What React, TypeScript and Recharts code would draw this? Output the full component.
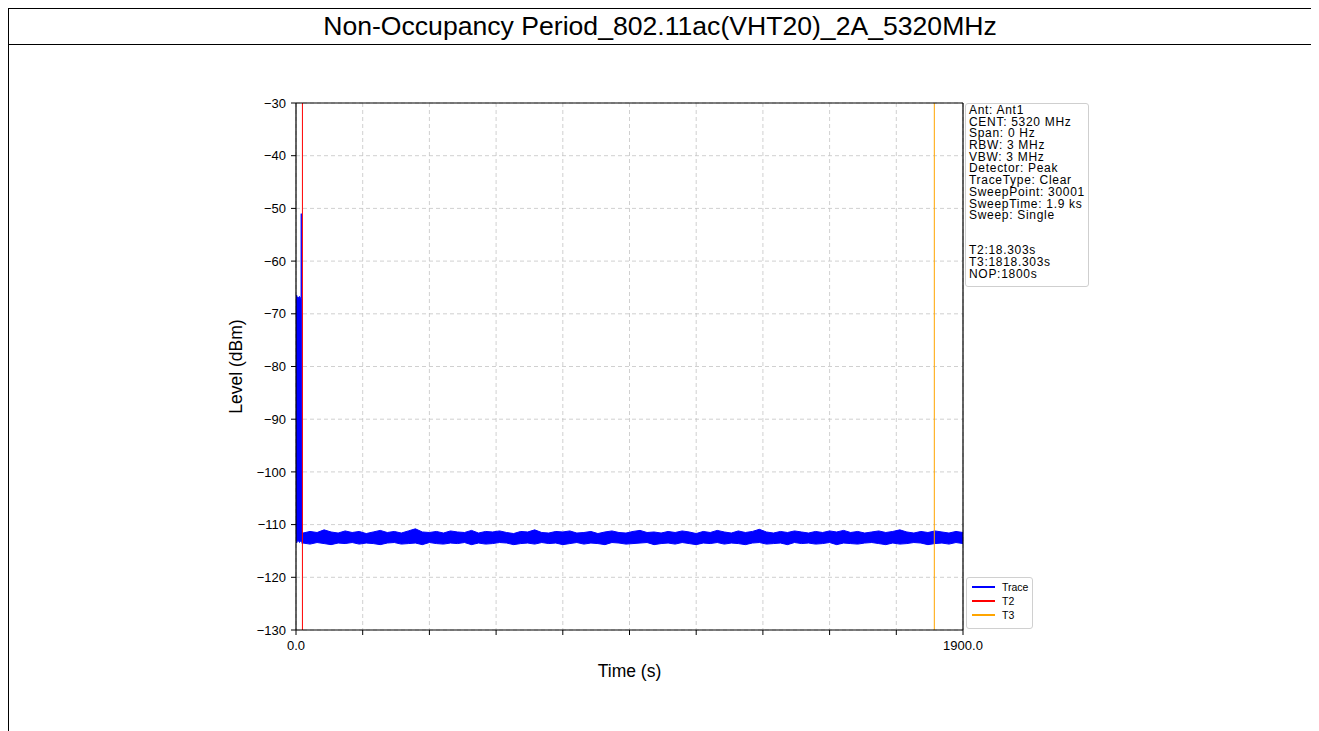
import React from 'react';
import {
  ComposedChart, Area, XAxis, YAxis, CartesianGrid, ReferenceLine, Label,
} from 'recharts';

// ---- data ----
const earlyTimes = [0, 2, 4, 6, 8, 10, 12, 13, 14.6, 15, 15.4, 16.5, 17.2];
const earlyLow = [-113.0, -113.5, -113.0, -113.2, -113.0, -113.4, -113.0, -113.2, -113.0, -113.1, -113.2, -113.0, -113.6];
const earlyHigh = [-67.0, -66.5, -67.0, -66.8, -67.2, -66.7, -67.0, -67.0, -67.1, -51.0, -67.0, -67.1, -111.6];

const mainTimes = [
  20, 40, 60, 80, 100, 120, 140, 160, 180, 200,
  220, 240, 260, 280, 300, 320, 340, 360, 380, 400,
  420, 440, 460, 480, 500, 520, 540, 560, 580, 600,
  620, 640, 660, 680, 700, 720, 740, 760, 780, 800,
  820, 840, 860, 880, 900, 920, 940, 960, 980, 1000,
  1020, 1040, 1060, 1080, 1100, 1120, 1140, 1160, 1180, 1200,
  1220, 1240, 1260, 1280, 1300, 1320, 1340, 1360, 1380, 1400,
  1420, 1440, 1460, 1480, 1500, 1520, 1540, 1560, 1580, 1600,
  1620, 1640, 1660, 1680, 1700, 1720, 1740, 1760, 1780, 1800,
  1820, 1840, 1860, 1880, 1900,
];
const mainHigh = [
  -111.6, -111.3, -111.5, -111.0, -111.4, -111.6, -111.2, -111.5, -111.3, -111.7,
  -111.4, -111.1, -111.5, -111.3, -111.6, -111.2, -110.8, -111.4, -111.5, -111.3,
  -111.6, -111.2, -111.4, -111.5, -111.1, -111.6, -111.3, -111.4, -111.2, -111.5,
  -111.7, -111.3, -111.4, -111.0, -111.5, -111.6, -111.3, -111.4, -111.2, -111.6,
  -111.5, -111.3, -111.7, -111.4, -111.2, -111.5, -111.6, -111.3, -111.1, -111.5,
  -111.4, -111.6, -111.3, -111.5, -111.2, -111.4, -111.7, -111.3, -111.5, -111.1,
  -111.4, -111.6, -111.2, -111.5, -111.3, -110.9, -111.4, -111.6, -111.3, -111.5,
  -111.2, -111.4, -111.6, -111.3, -111.5, -111.2, -111.4, -111.1, -111.5, -111.3,
  -111.6, -111.4, -111.2, -111.5, -111.3, -111.0, -111.4, -111.6, -111.3, -111.5,
  -111.2, -111.4, -111.6, -111.3, -111.5,
];
const mainLow = [
  -113.5, -113.7, -113.4, -113.6, -113.8, -113.5, -113.6, -113.4, -113.7, -113.5,
  -113.6, -113.8, -113.5, -113.4, -113.7, -113.6, -113.5, -113.8, -113.4, -113.6,
  -113.7, -113.5, -113.6, -113.4, -113.8, -113.5, -113.7, -113.6, -113.4, -113.5,
  -113.8, -113.6, -113.5, -113.7, -113.4, -113.6, -113.5, -113.8, -113.6, -113.4,
  -113.7, -113.5, -113.6, -113.8, -113.4, -113.5, -113.7, -113.6, -113.5, -113.4,
  -113.8, -113.6, -113.5, -113.7, -113.4, -113.6, -113.8, -113.5, -113.6, -113.4,
  -113.7, -113.5, -113.6, -113.8, -113.5, -113.4, -113.7, -113.6, -113.5, -113.8,
  -113.4, -113.6, -113.5, -113.7, -113.6, -113.4, -113.8, -113.5, -113.6, -113.7,
  -113.5, -113.4, -113.6, -113.8, -113.5, -113.7, -113.6, -113.4, -113.5, -113.8,
  -113.6, -113.5, -113.7, -113.4, -113.6,
];

const xTicks = [0, 190, 380, 570, 760, 950, 1140, 1330, 1520, 1710, 1900];
const yTicks = [-130, -120, -110, -100, -90, -80, -70, -60, -50, -40, -30];
const T2 = 18.303;
const T3 = 1818.303;

const infoLines = [
  'Ant: Ant1', 'CENT: 5320 MHz', 'Span: 0 Hz', 'RBW: 3 MHz', 'VBW: 3 MHz',
  'Detector: Peak', 'TraceType: Clear', 'SweepPoint: 30001', 'SweepTime: 1.9 ks',
  'Sweep: Single', '', '', 'T2:18.303s', 'T3:1818.303s', 'NOP:1800s',
];
const legendItems = [
  { name: 'Trace', color: '#0000ff' },
  { name: 'T2', color: '#ff0000' },
  { name: 'T3', color: '#ffa500' },
];

const title = 'Non-Occupancy Period_802.11ac(VHT20)_2A_5320MHz';

const allTimes = earlyTimes.concat(mainTimes);
const allLow = earlyLow.concat(mainLow);
const allHigh = earlyHigh.concat(mainHigh);
const table = allTimes.map((t, i) => ({ t, range: [allLow[i], allHigh[i]] }));

const FONT = '"Liberation Sans", Arial, sans-serif';

export default function App() {
  return (
    <div style={{ width: 1302, border: '1px solid #000', borderBottom: 'none', fontFamily: FONT, background: '#fff' }}>
      <div style={{ height: 35, borderBottom: '1px solid #000', display: 'flex', alignItems: 'center', justifyContent: 'center', fontSize: 26.6, color: '#000' }}>
        {title}
      </div>
      <div style={{ position: 'relative', width: 1300, height: 686 }}>
        <ComposedChart
          width={1300}
          height={686}
          data={table}
          margin={{ top: 58, right: 346, left: 227, bottom: 71 }}
          style={{ fontFamily: FONT }}
        >
          <CartesianGrid stroke="#c4c4c4" strokeDasharray="4 3" strokeWidth={0.8} />
          <XAxis
            dataKey="t"
            type="number"
            domain={[0, 1900]}
            ticks={xTicks}
            allowDataOverflow
            height={30}
            tickSize={5}
            tickMargin={6}
            stroke="#000"
            tick={{ fill: '#000', fontSize: 13 }}
            tickLine={{ stroke: '#000' }}
            axisLine={{ stroke: '#000', strokeWidth: 1.2 }}
            tickFormatter={(v: number) => (v === 0 || v === 1900 ? v.toFixed(1) : '')}
          >
            <Label value="Time (s)" position="bottom" offset={5} style={{ fill: '#000', fontSize: 17.5 }} />
          </XAxis>
          <YAxis
            type="number"
            domain={[-130, -30]}
            ticks={yTicks}
            allowDataOverflow
            width={60}
            tickSize={5}
            tickMargin={5}
            stroke="#000"
            tick={{ fill: '#000', fontSize: 13 }}
            tickLine={{ stroke: '#000' }}
            axisLine={{ stroke: '#000', strokeWidth: 1.2 }}
            tickFormatter={(v: number) => String(v).replace('-', '\u2212')}
          >
            <Label value="Level (dBm)" angle={-90} position="insideLeft" offset={0} style={{ fill: '#000', fontSize: 17.5, textAnchor: 'middle' }} />
          </YAxis>
          <Area
            type="linear"
            dataKey="range"
            stroke="#0000ff"
            strokeWidth={1}
            fill="#0000ff"
            fillOpacity={1}
            isAnimationActive={false}
            dot={false}
            activeDot={false}
          />
          <ReferenceLine x={T2} stroke="#ff0000" strokeWidth={1} />
          <ReferenceLine x={T3} stroke="#ffa500" strokeWidth={1} />
          <ReferenceLine y={-30} stroke="#000" strokeWidth={1.2} />
          <ReferenceLine x={1900} stroke="#000" strokeWidth={1.2} />
        </ComposedChart>
        <div
          style={{
            position: 'absolute', left: 956, top: 58, width: 119, height: 181,
            border: '1px solid #cfcfcf', borderRadius: 3, background: '#fff',
            fontSize: 12, letterSpacing: 0.7, lineHeight: '11.7px', color: '#000', paddingLeft: 3, paddingTop: 1,
            whiteSpace: 'pre',
          }}
        >
          {infoLines.map((l, i) => (
            <div key={i} style={{ height: 11.7 }}>{l}</div>
          ))}
        </div>
        <div
          style={{
            position: 'absolute', left: 957, top: 532, width: 65, height: 49,
            border: '1px solid #d0d0d0', borderRadius: 3, background: '#fff',
            fontSize: 10.5, color: '#000', paddingTop: 1,
          }}
        >
          {legendItems.map((it) => (
            <div key={it.name} style={{ display: 'flex', alignItems: 'center', height: 14, marginTop: it.name === 'Trace' ? 1 : 0 }}>
              <div style={{ width: 23, height: 1.5, background: it.color, marginLeft: 5, marginRight: 7 }} />
              <span>{it.name}</span>
            </div>
          ))}
        </div>
      </div>
    </div>
  );
}
